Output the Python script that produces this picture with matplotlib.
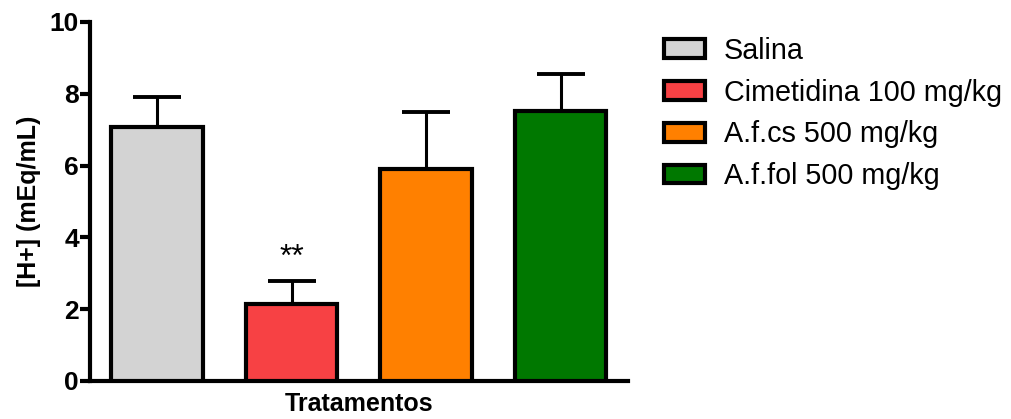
import matplotlib as mpl
mpl.use('Agg')
import matplotlib.pyplot as plt
from matplotlib.patches import Patch

plt.rcParams['font.family'] = ['Liberation Sans', 'DejaVu Sans']

# group means and SEM (upper error only)
grupos = ['Salina', 'Cimetidina 100 mg/kg', 'A.f.cs 500 mg/kg', 'A.f.fol 500 mg/kg']
medias = [7.06, 2.14, 5.90, 7.52]
erros = [0.84, 0.65, 1.60, 1.02]
cores = ['#D3D3D3', '#F74144', '#FF8000', '#007800']
signif = ['', '**', '', '']

fig = plt.figure(figsize=(10.11, 4.19), dpi=100)
ax = fig.add_axes([0.089, 0.0907, 0.532, 0.857])

x = list(range(len(grupos)))
ax.bar(x, medias, width=0.68, color=cores, edgecolor='black', linewidth=3.0,
       yerr=[[0] * len(erros), erros], capsize=17,
       error_kw=dict(ecolor='black', elinewidth=2.2, capthick=2.8), zorder=3)

for xi, m, e, s in zip(x, medias, erros, signif):
    if s:
        ax.text(xi, m + e + 0.22, s, ha='center', va='bottom', fontsize=23)

ax.set_xlim(-0.5, 3.5)
ax.set_ylim(0, 10)
ax.set_yticks([0, 2, 4, 6, 8, 10])
ax.set_xticks([])
for sp in ['top', 'right']:
    ax.spines[sp].set_visible(False)
for sp in ['left', 'bottom']:
    ax.spines[sp].set_linewidth(3.0)
ax.tick_params(axis='y', width=3.0, length=7, labelsize=19, pad=1)
for lab in ax.get_yticklabels():
    lab.set_fontweight('bold')
ax.set_ylabel('[H+] (mEq/mL)', fontsize=18, fontweight='bold', labelpad=6)
ax.set_xlabel('Tratamentos', fontsize=18, fontweight='bold', labelpad=8)

handles = [Patch(facecolor=c, edgecolor='black', linewidth=3.0) for c in cores]
fig.legend(handles, grupos, loc='upper left', bbox_to_anchor=(0.637, 0.96),
           frameon=False, fontsize=20.7, handlelength=1.42, handleheight=0.62,
           handletextpad=0.66, labelspacing=0.48, borderpad=0.2)

fig.savefig('out.png', dpi=100)
